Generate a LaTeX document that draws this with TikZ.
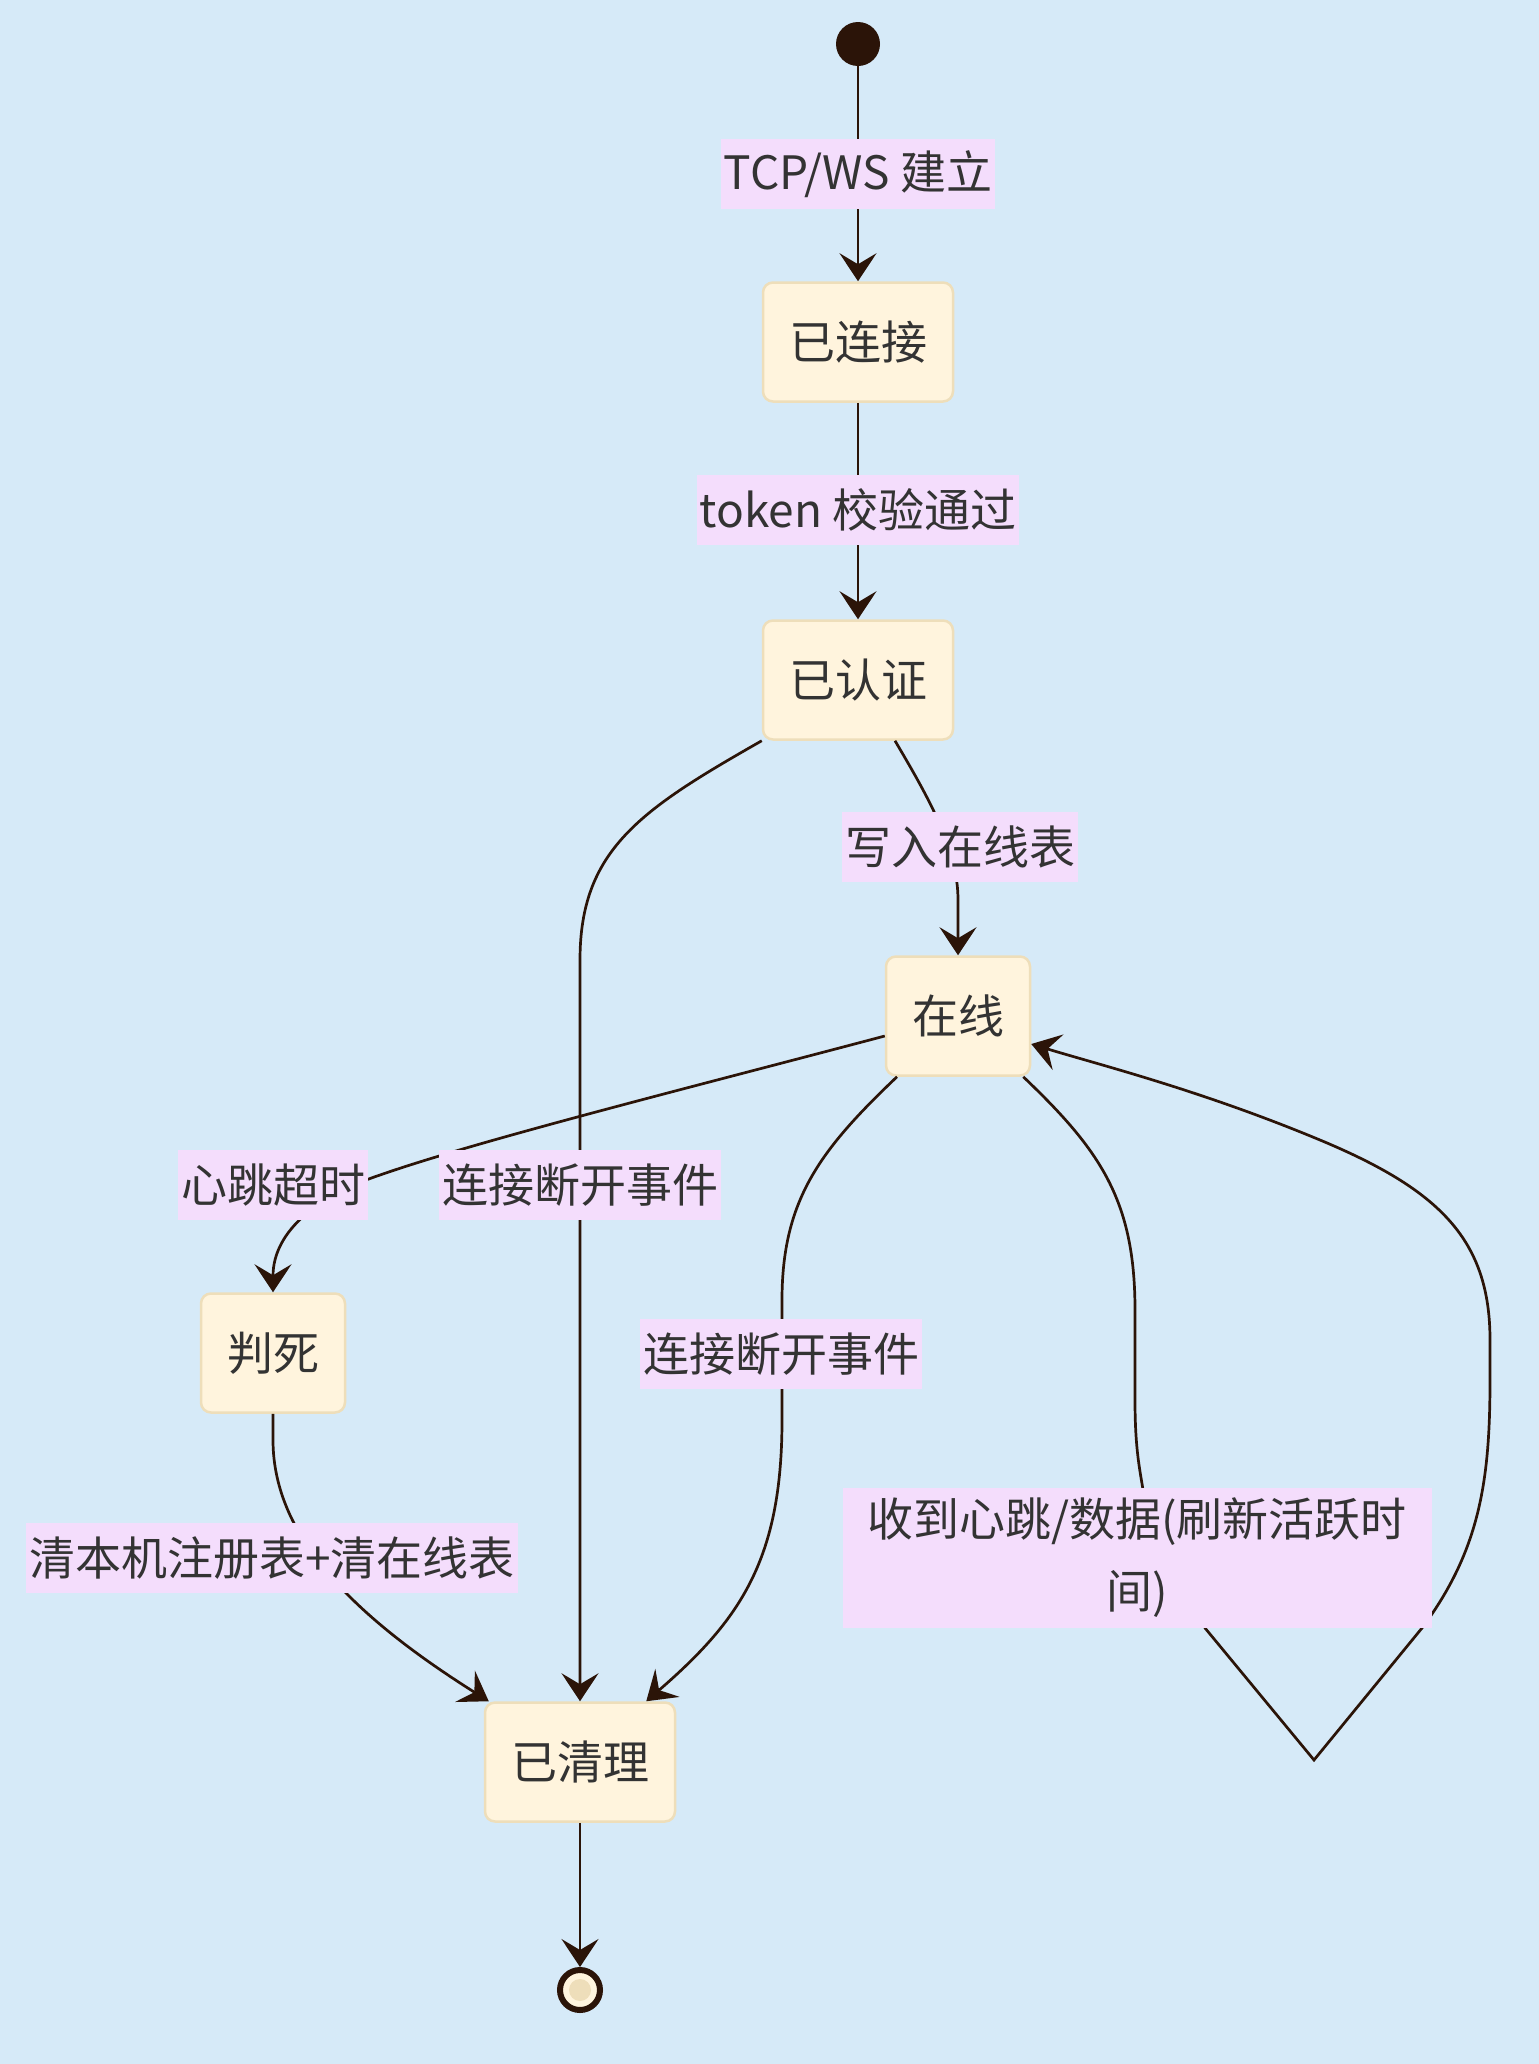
\documentclass[tikz,border=0pt]{standalone}
\usepackage{fontspec}
\setmainfont{Noto Sans CJK SC}
\usetikzlibrary{arrows.meta}
\definecolor{bgc}{RGB}{214,234,248}
\definecolor{boxfill}{RGB}{255,244,221}
\definecolor{boxborder}{RGB}{238,222,186}
\definecolor{lblfill}{RGB}{244,221,252}
\definecolor{linec}{RGB}{43,20,8}
\definecolor{textc}{RGB}{51,51,51}
\begin{document}
\begin{tikzpicture}[x=1pt,y=-1pt,
  stbox/.style={draw=boxborder, fill=boxfill, line width=2.5pt, rounded corners=10pt,
    inner xsep=26pt, inner ysep=0pt, minimum height=119pt, text=textc,
    font=\fontsize{46pt}{56pt}\selectfont},
  lbl/.style={fill=lblfill, inner xsep=3pt, inner ysep=0pt, minimum height=70pt,
    text=textc, font=\fontsize{46pt}{56pt}\selectfont},
  edge/.style={draw=linec, line width=2.7pt, -{Stealth[length=28pt,width=37pt,inset=11pt]}}]
\fill[bgc] (0,0) rectangle (1539,2064);
\useasboundingbox (0,0) rectangle (1539,2064);

% states
\node[circle, fill=linec, minimum size=44pt, inner sep=0pt] (start) at (858,44) {};
\node[stbox] (c1) at (858,342) {已连接};
\node[stbox] (c2) at (858,680) {已认证};
\node[stbox] (online) at (958,1016) {在线};
\node[stbox] (dead) at (273,1353) {判死};
\node[stbox] (cl) at (580,1762) {已清理};
\node[circle, draw=linec, line width=6pt, fill=boxfill, minimum size=40pt, inner sep=0pt] (endc) at (580,1990) {};
\node[circle, fill=boxborder, minimum size=22pt, inner sep=0pt] (endin) at (580,1990) {};

% edges
\draw[edge] (start) -- (c1);
\draw[edge] (c1) -- (c2);
\draw[edge] (c2.south west) .. controls (640,810) and (580,850) .. (580,960) -- (cl.north);
\draw[edge] ([xshift=37pt]c2.south) .. controls (930,800) and (958,850) .. (958,900) -- (online.north);
\draw[edge] ([yshift=-20pt]online.west) .. controls (700,1085) and (480,1140) .. (380,1175)
  .. controls (320,1195) and (273,1230) .. (dead.north);
\draw[edge] (dead.south) -- (273,1440) .. controls (273,1540) and (360,1620) .. ([xshift=5pt]cl.north west);
\draw[edge] ([xshift=-61pt]online.south) .. controls (820,1150) and (782,1200) .. (782,1300)
  -- (782,1420) .. controls (782,1560) and (740,1620) .. ([xshift=-30pt]cl.north east);
\draw[edge] ([xshift=-8pt]online.south east) .. controls (1100,1150) and (1135,1200) .. (1135,1310)
  -- (1135,1400) .. controls (1135,1450) and (1140,1470) .. (1143,1490)
  -- (1205,1628) -- (1314,1760) -- (1422,1628)
  .. controls (1480,1550) and (1490,1480) .. (1490,1380) -- (1490,1340)
  .. controls (1490,1240) and (1440,1190) .. (1320,1140)
  .. controls (1200,1090) and (1100,1065) .. ([yshift=-28pt]online.east);
\draw[edge] (cl) -- (endc);

% labels
\node[lbl] (l1) at (858,174) {TCP/WS 建立};
\node[lbl] (l2) at (858,510) {token 校验通过};
\node[lbl] (l3) at (960,847) {写入在线表};
\node[lbl] (l4) at (273,1185) {心跳超时};
\node[lbl] (l5) at (580,1185) {连接断开事件};
\node[lbl] (l6) at (781,1354) {连接断开事件};
\node[lbl] (l7) at (272,1558) {清本机注册表+清在线表};
\node[lbl, text width=583pt, align=center, minimum height=140pt,
  font=\fontsize{46pt}{72pt}\selectfont] (l8) at (1137,1558) {收到心跳/数据(刷新活跃时\\间)};
\end{tikzpicture}
\end{document}
